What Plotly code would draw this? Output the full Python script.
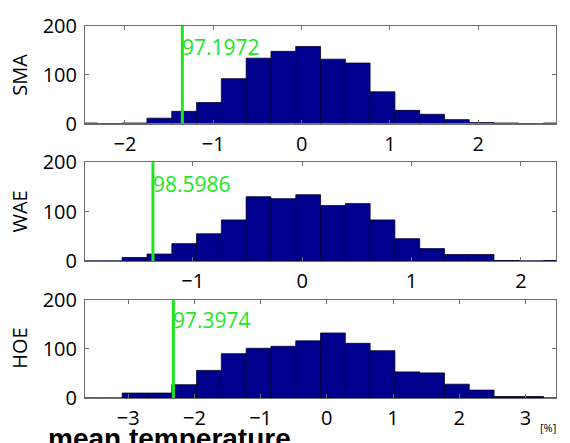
import plotly.graph_objects as go
from plotly.subplots import make_subplots

# ---- data ----
panel_names = ["SMA", "WAE", "HOE"]

sma_centers = [-2.452, -2.171, -1.890, -1.610, -1.329, -1.048, -0.768, -0.487, -0.206, 0.074,
               0.355, 0.635, 0.916, 1.197, 1.477, 1.758, 2.038, 2.319, 2.600, 2.880]
sma_counts = [1, 0, 1, 11, 25, 43, 92, 134, 148, 158, 132, 124, 65, 27, 19, 8, 2, 1, 0, 1]
sma_width = 0.2807

wae_centers = [-1.985, -1.758, -1.532, -1.305, -1.078, -0.852, -0.625, -0.399, -0.172, 0.055,
               0.281, 0.508, 0.734, 0.961, 1.187, 1.414, 1.640, 1.867, 2.093, 2.320]
wae_counts = [0, 0, 7, 14, 35, 55, 83, 130, 126, 134, 112, 116, 83, 45, 25, 13, 13, 1, 0, 1]
wae_width = 0.2265

hoe_centers = [-3.653, -3.278, -2.904, -2.529, -2.155, -1.780, -1.406, -1.031, -0.657, -0.282,
               0.092, 0.467, 0.841, 1.216, 1.590, 1.964, 2.339, 2.713, 3.088, 3.462]
hoe_counts = [0, 0, 10, 10, 27, 56, 90, 101, 105, 116, 132, 111, 96, 53, 51, 28, 16, 3, 3, 0]
hoe_width = 0.3745

marker_x = [-1.35, -1.364, -2.318]
marker_labels = ["97.1972", "98.5986", "97.3974"]
label_y = [157, 155, 159]

y_ticks = [0, 100, 200]

centers = [sma_centers, wae_centers, hoe_centers]
counts = [sma_counts, wae_counts, hoe_counts]
widths = [sma_width, wae_width, hoe_width]

# ---- figure ----
W, H = 570, 443
ml, mr, mt, mb = 85, 14, 17, 37
ph = H - mt - mb
pw = W - ml - mr

def yfrac(px):
    return (H - mb - px) / ph

domains = [[yfrac(119), yfrac(17)], [yfrac(262.7), yfrac(159.3)], [yfrac(406), yfrac(303)]]

fig = make_subplots(rows=3, cols=1)
FONT = "Open Sans"
GREEN = "rgb(30,230,30)"
AXC = "#6e6e6e"

for i in range(3):
    r = i + 1
    fig.add_trace(go.Bar(x=centers[i], y=counts[i], width=widths[i],
                         marker=dict(color="#00008f", line=dict(color="#000030", width=0.8)),
                         showlegend=False, hoverinfo="skip"), row=r, col=1)
    xr = [centers[i][0], centers[i][-1]]
    fig.update_xaxes(range=xr, dtick=1, tick0=0, ticks="inside", ticklen=4, tickcolor=AXC,
                     showline=True, linecolor=AXC, linewidth=1, mirror="ticks",
                     showgrid=False, zeroline=False, ticklabelstandoff=2,
                     tickfont=dict(family=FONT, size=20, color="black"), row=r, col=1)
    fig.update_yaxes(range=[0, 200], tickvals=y_ticks, ticks="inside", ticklen=4, tickcolor=AXC,
                     showline=True, linecolor=AXC, linewidth=1, mirror="ticks",
                     showgrid=False, zeroline=False, ticklabelstandoff=3,
                     tickfont=dict(family=FONT, size=20, color="black"),
                     domain=domains[i], row=r, col=1)
    xref = "x" if i == 0 else f"x{r}"
    yref = "y" if i == 0 else f"y{r}"
    fig.add_shape(type="line", x0=marker_x[i], x1=marker_x[i], y0=0, y1=1,
                  xref=xref, yref=f"{yref} domain", line=dict(color=GREEN, width=3))
    fig.add_annotation(x=marker_x[i], y=label_y[i], xref=xref, yref=yref, text=marker_labels[i],
                       showarrow=False, xanchor="left", yanchor="middle", xshift=-2,
                       font=dict(family=FONT, size=21, color=GREEN))
    ymid = (domains[i][0] + domains[i][1]) / 2
    fig.add_annotation(x=(20 - ml) / pw, y=ymid, xref="paper", yref="paper", text=panel_names[i],
                       textangle=-90, showarrow=False, xanchor="center", yanchor="middle",
                       font=dict(family=FONT, size=20, color="black"))

fig.add_annotation(x=(46 - ml) / pw, y=yfrac(430), xref="paper", yref="paper",
                   text="<b>mean temperature</b>", showarrow=False, xanchor="left", yanchor="top",
                   font=dict(family="Liberation Sans", size=28, color="black"))
fig.add_annotation(x=(558 - ml) / pw, y=yfrac(437), xref="paper", yref="paper",
                   text="[%]", showarrow=False, xanchor="right", yanchor="middle",
                   font=dict(family=FONT, size=11, color="black"))

fig.update_layout(width=W, height=H, margin=dict(l=ml, r=mr, t=mt, b=mb),
                  plot_bgcolor="white", paper_bgcolor="white", bargap=0,
                  font=dict(family=FONT), hovermode=False)

fig.write_html("out.html", config={"displayModeBar": False, "staticPlot": True},
               post_script="document.body.style.margin='0';document.body.style.padding='0';"
                           "document.body.style.overflow='hidden';")
